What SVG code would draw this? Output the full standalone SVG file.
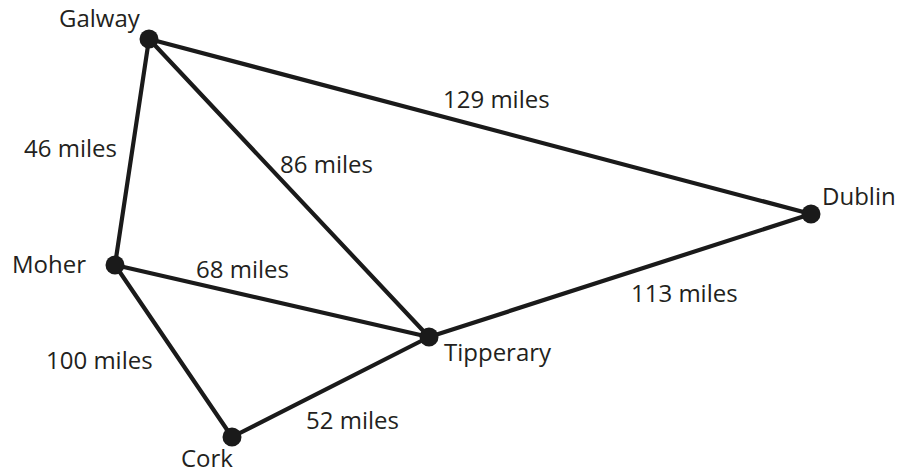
<svg xmlns="http://www.w3.org/2000/svg" width="903" height="474" viewBox="0 0 903 474">
  <style>
    .edge { stroke: #1a1a1a; stroke-width: 4.2; stroke-linecap: round; fill: none; }
    .dot { fill: #1a1a1a; }
    text { font-family: "Open Sans", "Noto Sans", sans-serif; font-size: 24px; fill: #231f20; }
  </style>
  <rect width="903" height="474" fill="#ffffff"/>

  <!-- connectors and their distance labels -->
  <g id="connectors">
    <line class="edge" x1="149" y1="39" x2="811" y2="214"/>
    <line class="edge" x1="149" y1="39" x2="115" y2="265"/>
    <line class="edge" x1="149" y1="39" x2="429" y2="337"/>
    <line class="edge" x1="115" y1="265" x2="429" y2="337"/>
    <line class="edge" x1="115" y1="265" x2="232" y2="437"/>
    <line class="edge" x1="232" y1="437" x2="429" y2="337"/>
    <line class="edge" x1="429" y1="337" x2="811" y2="214"/>
    <text x="443" y="108">129 miles</text>
    <text x="24" y="157">46 miles</text>
    <text x="280" y="173">86 miles</text>
    <text x="196" y="278">68 miles</text>
    <text x="631" y="302">113 miles</text>
    <text x="46" y="369">100 miles</text>
    <text x="306" y="429">52 miles</text>
  </g>

  <!-- nodes -->
  <g id="galway">
    <circle class="dot" cx="149" cy="39" r="9.5"/>
    <text x="59" y="27">Galway</text>
  </g>
  <g id="moher">
    <circle class="dot" cx="115" cy="265" r="9.5"/>
    <text x="12" y="273">Moher</text>
  </g>
  <g id="cork">
    <circle class="dot" cx="232" cy="437" r="9.5"/>
    <text x="181" y="467">Cork</text>
  </g>
  <g id="tipperary">
    <circle class="dot" cx="429" cy="337" r="9.5"/>
    <text x="444" y="361">Tipperary</text>
  </g>
  <g id="dublin">
    <circle class="dot" cx="811" cy="214" r="9.5"/>
    <text x="822" y="205">Dublin</text>
  </g>
</svg>
